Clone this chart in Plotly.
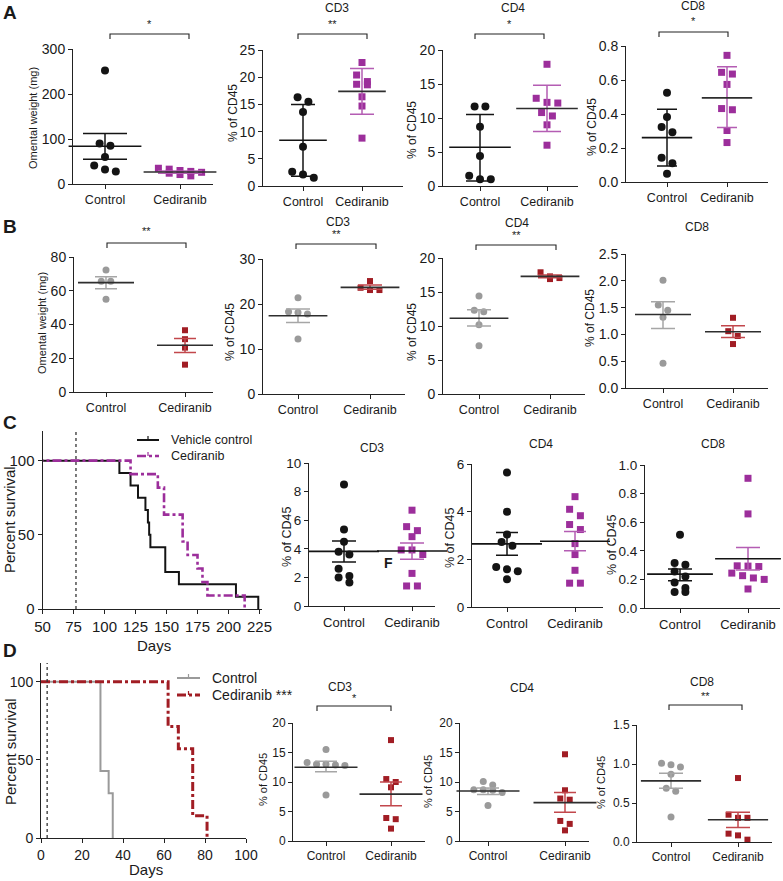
import plotly.graph_objects as go

W, H = 783, 881
FONT = "Liberation Sans, Arial, sans-serif"
GROUPS = ["Control", "Cediranib"]

# ---------------- A: first model ----------------
A_OMENTUM = [[252, 90, 85, 60, 41, 32, 28], [35, 33, 30, 28, 26, 24, 21, 18]]
A_OMENTUM_MEAN = [84, 26.8]
A_OMENTUM_ERR = [[55, 112], [24, 29]]

A_CD3 = [[16.3, 15.5, 13.6, 7.2, 2.6, 2.1, 1.5], [22.7, 20.4, 19.2, 18.7, 18.6, 16.4, 14.7, 8.8]]
A_CD3_MEAN = [8.4, 17.4]
A_CD3_ERR = [[1.8, 15.0], [13.2, 21.6]]

A_CD4 = [[11.7, 11.7, 8.7, 4.4, 1.5, 1.0, 1.0], [17.9, 12.9, 12.3, 12.2, 10.8, 10.3, 9.0, 6.0]]
A_CD4_MEAN = [5.7, 11.4]
A_CD4_ERR = [[0.75, 10.5], [8.0, 14.8]]

A_CD8 = [[0.525, 0.383, 0.324, 0.293, 0.143, 0.11, 0.049], [0.745, 0.645, 0.635, 0.574, 0.432, 0.425, 0.303, 0.232]]
A_CD8_MEAN = [0.261, 0.495]
A_CD8_ERR = [[0.094, 0.428], [0.32, 0.678]]

# ---------------- B: second model ----------------
B_OMENTUM = [[72.3, 65.7, 65.7, 55], [36.6, 31.3, 26.3, 16.2]]
B_OMENTUM_MEAN = [64.8, 27.7]
B_OMENTUM_ERR = [[61.2, 68.3], [23.4, 31.7]]

B_CD3 = [[21.4, 18.3, 18.1, 17.8, 12.2], [25.1, 23.6, 23.1, 23.1]]
B_CD3_MEAN = [17.4, 23.7]
B_CD3_ERR = [[15.9, 18.9], [23.3, 24.2]]

B_CD4 = [[14.4, 12.3, 12.1, 10.2, 7.1], [17.9, 17.3, 17.05, 16.9]]
B_CD4_MEAN = [11.15, 17.3]
B_CD4_ERR = [[10.0, 12.4], [17.1, 17.5]]

B_CD8 = [[2.01, 1.55, 1.45, 1.32, 0.46], [1.31, 1.06, 0.97, 0.82]]
B_CD8_MEAN = [1.37, 1.05]
B_CD8_ERR = [[1.11, 1.61], [0.94, 1.16]]

# ---------------- C: survival + CD45 fractions ----------------
C_DAYS_VEH = [0, 112, 121, 127, 133, 135, 136, 137, 149, 160, 206, 224]
C_SURV_VEH = [100, 91.7, 83.3, 75, 66.7, 58.3, 50, 41.7, 25, 16.7, 8.3, 0]
C_DAYS_CED = [0, 121, 143, 148, 163, 167, 175, 179, 183, 213]
C_SURV_CED = [100, 90.9, 81.8, 63.6, 45.5, 36.4, 27.3, 18.2, 9.1, 0]
C_TREAT_DAY = 77

C_CD3 = [[8.5, 5.35, 4.5, 3.8, 3.6, 2.6, 2.1, 2.0, 1.65], [6.7, 5.55, 5.27, 4.85, 3.92, 3.92, 3.6, 2.28, 1.4, 1.4]]
C_CD3_MEAN = [3.82, 3.85]
C_CD3_ERR = [[3.07, 4.55], [3.27, 4.4]]

C_CD4 = [[5.64, 4.0, 3.04, 2.73, 2.57, 1.68, 1.58, 1.5, 1.16], [4.63, 4.1, 3.83, 3.46, 3.25, 2.66, 2.2, 1.54, 1.0, 1.0]]
C_CD4_MEAN = [2.65, 2.76]
C_CD4_ERR = [[2.17, 3.13], [2.36, 3.17]]

C_CD8 = [[0.512, 0.314, 0.302, 0.256, 0.221, 0.179, 0.14, 0.112, 0.112],
         [0.907, 0.658, 0.295, 0.293, 0.29, 0.244, 0.226, 0.21, 0.2, 0.133]]
C_CD8_MEAN = [0.237, 0.344]
C_CD8_ERR = [[0.19, 0.272], [0.265, 0.423]]

# ---------------- D: survival + CD45 fractions ----------------
D_DAYS_CTRL = [0, 29, 33, 35]
D_SURV_CTRL = [100, 42.9, 28.6, 0]
D_DAYS_CED = [0, 62, 67, 74, 81]
D_SURV_CED = [100, 71.4, 57.1, 14.3, 0]
D_TREAT_DAY = 3

D_CD3 = [[15.5, 13.3, 13.0, 13.0, 12.9, 12.8, 7.8], [17.1, 10.5, 10.0, 9.1, 3.9, 3.7, 2.1]]
D_CD3_MEAN = [12.5, 7.94]
D_CD3_ERR = [[11.75, 13.5], [5.97, 10.0]]

D_CD4 = [[10.1, 9.5, 8.7, 8.7, 8.6, 8.2, 6.0], [14.7, 8.6, 7.2, 7.0, 3.4, 2.9, 1.8]]
D_CD4_MEAN = [8.47, 6.5]
D_CD4_ERR = [[7.9, 9.0], [4.86, 8.2]]

D_CD8 = [[1.01, 0.99, 0.96, 0.87, 0.69, 0.65, 0.32], [0.82, 0.35, 0.31, 0.31, 0.107, 0.085, 0.03]]
D_CD8_MEAN = [0.784, 0.285]
D_CD8_ERR = [[0.69, 0.88], [0.187, 0.383]]

# colours
BLACK = "#141414"
PURPLE = "#9c2e9b"
PURPLE_ERR = "#b45db3"
GREY = "#9a9a9a"
GREY_ERR = "#a6a6a6"
RED = "#a11d24"
RED_ERR = "#c2474c"
MEAN_DARK = "#2e2e2e"
AXIS = "#222222"

STYLE_A = dict(colors=[BLACK, PURPLE], err=[BLACK, PURPLE_ERR], mean=[BLACK, MEAN_DARK], size=8)
STYLE_B = dict(colors=[GREY, RED], err=[GREY_ERR, RED_ERR], mean=[MEAN_DARK, MEAN_DARK], size=7)
STYLE_C = dict(colors=[BLACK, PURPLE], err=[BLACK, PURPLE_ERR], mean=[BLACK, BLACK], size=8)
STYLE_D = dict(colors=[GREY, RED], err=[GREY_ERR, RED_ERR], mean=[MEAN_DARK, MEAN_DARK], size=7)

# pixel geometry of each dot panel: y-axis x, x-axis end, y of top tick, y of zero, category centres
PANELS = [
    dict(vals=A_OMENTUM, mean=A_OMENTUM_MEAN, err=A_OMENTUM_ERR, ymax=300, dtick=100, fmt="d",
         L=73, R=213, top=49, bot=184, cx=105, dx=180, style=STYLE_A, title=None,
         ylab="Omental weight (mg)", ylab_xy=(33, 118), ylab_size=11, tick=14, xt=12.5,
         stars="*", bracket=(110, 189, 34), star_y=24, mlen=52, cap=22),
    dict(vals=A_CD3, mean=A_CD3_MEAN, err=A_CD3_ERR, ymax=25, dtick=5, fmt="d",
         L=263, R=403, top=50, bot=186, cx=303, dx=362, style=STYLE_A, title=("CD3", 337, 8),
         ylab="% of CD45", ylab_xy=(233, 113), ylab_size=12, tick=14, xt=12.5,
         stars="**", bracket=(298, 367, 34), star_y=24, mlen=34, cap=12),
    dict(vals=A_CD4, mean=A_CD4_MEAN, err=A_CD4_ERR, ymax=20, dtick=5, fmt="d",
         L=443, R=578, top=50, bot=186, cx=480, dx=547, style=STYLE_A, title=("CD4", 513, 8),
         ylab="% of CD45", ylab_xy=(412, 130), ylab_size=12, tick=14, xt=12.5,
         stars="*", bracket=(475, 544, 34), star_y=24, mlen=44, cap=14),
    dict(vals=A_CD8, mean=A_CD8_MEAN, err=A_CD8_ERR, ymax=0.8, dtick=0.2, fmt=".1f",
         L=626, R=768, top=46, bot=182, cx=667, dx=727, style=STYLE_A, title=("CD8", 693, 6),
         ylab="% of CD45", ylab_xy=(592, 127), ylab_size=12, tick=14, xt=12.5,
         stars="*", bracket=(659, 728, 32), star_y=21, mlen=36, cap=10),

    dict(vals=B_OMENTUM, mean=B_OMENTUM_MEAN, err=B_OMENTUM_ERR, ymax=80, dtick=20, fmt="d",
         L=74, R=213, top=257, bot=392, cx=106, dx=185, style=STYLE_B, title=None,
         ylab="Omental weight (mg)", ylab_xy=(42, 323), ylab_size=11, tick=14, xt=12.5,
         stars="**", bracket=(107, 186, 243), star_y=231, mlen=40, cap=11),
    dict(vals=B_CD3, mean=B_CD3_MEAN, err=B_CD3_ERR, ymax=30, dtick=10, fmt="d",
         L=263, R=405, top=259, bot=394, cx=298, dx=370, style=STYLE_B, title=("CD3", 338, 222),
         ylab="% of CD45", ylab_xy=(230, 332), ylab_size=12, tick=14, xt=12.5,
         stars="**", bracket=(296, 376, 244), star_y=234, mlen=42, cap=12),
    dict(vals=B_CD4, mean=B_CD4_MEAN, err=B_CD4_ERR, ymax=20, dtick=5, fmt="d",
         L=443, R=585, top=258, bot=394, cx=479, dx=550, style=STYLE_B, title=("CD4", 517, 223),
         ylab="% of CD45", ylab_xy=(412, 332), ylab_size=12, tick=14, xt=12.5,
         stars="**", bracket=(476, 556, 245), star_y=235, mlen=42, cap=12),
    dict(vals=B_CD8, mean=B_CD8_MEAN, err=B_CD8_ERR, ymax=2.5, dtick=0.5, fmt=".1f",
         L=626, R=768, top=254, bot=388, cx=663, dx=733, style=STYLE_B, title=("CD8", 697, 227),
         ylab="% of CD45", ylab_xy=(590, 318), ylab_size=12, tick=14, xt=12.5,
         stars=None, mlen=40, cap=12),

    dict(vals=C_CD3, mean=C_CD3_MEAN, err=C_CD3_ERR, ymax=10, dtick=2, fmt="d",
         L=309, R=435, top=463, bot=606, cx=344, dx=412, style=STYLE_C, title=("CD3", 372, 448),
         ylab="% of CD45", ylab_xy=(287, 537), ylab_size=12.5, tick=13.5, xt=13,
         stars=None, mlen=50, cap=12),
    dict(vals=C_CD4, mean=C_CD4_MEAN, err=C_CD4_ERR, ymax=6, dtick=2, fmt="d",
         L=472, R=603, top=464, bot=607, cx=507, dx=575, style=STYLE_C, title=("CD4", 541, 444),
         ylab="% of CD45", ylab_xy=(450, 538), ylab_size=12.5, tick=13.5, xt=13,
         stars=None, mlen=50, cap=11),
    dict(vals=C_CD8, mean=C_CD8_MEAN, err=C_CD8_ERR, ymax=1.0, dtick=0.2, fmt=".1f",
         L=645, R=780, top=465, bot=608, cx=680, dx=748, style=STYLE_C, title=("CD8", 713, 444),
         ylab="% of CD45", ylab_xy=(612, 545), ylab_size=12.5, tick=13.5, xt=13,
         stars=None, mlen=47, cap=12),

    dict(vals=D_CD3, mean=D_CD3_MEAN, err=D_CD3_ERR, ymax=20, dtick=5, fmt="d",
         L=293, R=425, top=723, bot=841, cx=326, dx=391, style=STYLE_D, title=("CD3", 340, 687),
         ylab="% of CD45", ylab_xy=(263, 780), ylab_size=11, tick=12, xt=12,
         stars="*", bracket=(317, 391, 706), star_y=698, mlen=45, cap=11),
    dict(vals=D_CD4, mean=D_CD4_MEAN, err=D_CD4_ERR, ymax=20, dtick=5, fmt="d",
         L=460, R=589, top=723, bot=841, cx=488, dx=565, style=STYLE_D, title=("CD4", 522, 688),
         ylab="% of CD45", ylab_xy=(428, 782), ylab_size=11, tick=12, xt=12,
         stars=None, mlen=45, cap=11),
    dict(vals=D_CD8, mean=D_CD8_MEAN, err=D_CD8_ERR, ymax=1.5, dtick=0.5, fmt=".1f",
         L=637, R=772, top=725, bot=842, cx=671, dx=738, style=STYLE_D, title=("CD8", 702, 682),
         ylab="% of CD45", ylab_xy=(601, 783), ylab_size=11, tick=12, xt=12,
         stars="**", bracket=(669, 742, 705), star_y=696, mlen=43, cap=12),
]


def fx(p):
    return p / W


def fy(p):
    return 1 - p / H


def swarm(values, ppu, span, size, max_row=5):
    """Prism-like row layout: points closer than a marker get spread sideways."""
    order = sorted(range(len(values)), key=lambda i: -values[i])
    bins, cur = [], []
    for i in order:
        if cur and ((values[cur[0]] - values[i]) * ppu >= size * 0.9 or len(cur) >= max_row):
            bins.append(cur)
            cur = []
        cur.append(i)
    bins.append(cur)
    offs = [0.0] * len(values)
    step = size * 1.35
    for b in bins:
        n = len(b)
        for k, i in enumerate(b):
            offs[i] = (k - (n - 1) / 2) * step / span
    return offs


fig = go.Figure()
layout = {}
annotations = []
shapes = []


def axis_style(size):
    return dict(showgrid=False, zeroline=False, showline=True, linecolor=AXIS, linewidth=1,
                ticks="outside", ticklen=4, tickwidth=1, tickcolor=AXIS, automargin=False,
                tickfont=dict(family=FONT, size=size, color="#1a1a1a"))


def text(x, y, s, size, angle=0, bold=False, anchor="center"):
    annotations.append(dict(x=fx(x), y=fy(y), xref="paper", yref="paper", text=f"<b>{s}</b>" if bold else s,
                            showarrow=False, textangle=angle, xanchor=anchor, yanchor="middle",
                            borderpad=0, font=dict(family=FONT, size=size, color="#1a1a1a")))


n = 0
for p in PANELS:
    n += 1
    xname, yname = f"x{n}", f"y{n}"
    span = p["dx"] - p["cx"]
    x0 = -(p["cx"] - p["L"]) / span
    x1 = 1 + (p["R"] - p["dx"]) / span
    ppu = (p["bot"] - p["top"]) / p["ymax"]
    st = p["style"]
    xa = axis_style(p["xt"])
    xa.update(domain=[fx(p["L"]), fx(p["R"])], range=[x0, x1], anchor=yname,
              tickvals=[0, 1], ticktext=GROUPS)
    ya = axis_style(p["tick"])
    ya.update(domain=[fy(p["bot"]), fy(p["top"])], range=[0, p["ymax"]], anchor=xname,
              dtick=p["dtick"], tick0=0, tickformat=p["fmt"])
    layout[f"xaxis{n}"] = xa
    layout[f"yaxis{n}"] = ya

    for g in range(2):
        vals = p["vals"][g]
        offs = swarm(vals, ppu, span, st["size"])
        fig.add_trace(go.Scatter(
            x=[g + o for o in offs], y=vals, mode="markers", xaxis=xname, yaxis=yname,
            marker=dict(symbol="circle" if g == 0 else "square", size=st["size"] if g == 0 else st["size"] - 1,
                        color=st["colors"][g], line=dict(width=0)),
            cliponaxis=False, showlegend=False, hoverinfo="y"))
        m = p["mean"][g]
        lo, hi = p["err"][g]
        fig.add_trace(go.Scatter(
            x=[g], y=[m], mode="markers", xaxis=xname, yaxis=yname,
            marker=dict(symbol="line-ew", size=p["mlen"], color=st["mean"][g],
                        line=dict(width=1.6, color=st["mean"][g])),
            error_y=dict(type="data", symmetric=False, array=[hi - m], arrayminus=[m - lo],
                         width=p["cap"], thickness=1.5, color=st["err"][g]),
            cliponaxis=False, showlegend=False, hoverinfo="y"))

    if p["title"]:
        t, tx, ty = p["title"]
        text(tx, ty, t, 12)
    lx, ly = p["ylab_xy"]
    text(lx, ly, p["ylab"], p["ylab_size"], angle=-90)
    if p["stars"]:
        bx0, bx1, by = p["bracket"]
        shapes.append(dict(type="path", xref="paper", yref="paper",
                           path=f"M {fx(bx0)},{fy(by + 5)} L {fx(bx0)},{fy(by)} L {fx(bx1)},{fy(by)} L {fx(bx1)},{fy(by + 5)}",
                           line=dict(color=AXIS, width=1.1)))
        text((bx0 + bx1) / 2, p["star_y"], p["stars"], 11)

# ---------------- survival curves ----------------
KM = [
    dict(L=42.5, R=262, top=431, bot=609, xr=[50, 227], yr=[0, 120], xdtick=25, treat=C_TREAT_DAY,
         series=[(C_DAYS_VEH, C_SURV_VEH, "Vehicle control", BLACK, 2, "solid"),
                 (C_DAYS_CED, C_SURV_CED, "Cediranib", PURPLE, 2.6, "dashdot")],
         key=dict(x0=137, x1=159, tx=170, ys=[440, 456], size=12.5),
         days_y=645, surv_xy=(9, 520), tick=15),
    dict(L=41, R=246, top=663, bot=838, xr=[0, 100], yr=[0, 112], xdtick=20, treat=D_TREAT_DAY,
         series=[(D_DAYS_CTRL, D_SURV_CTRL, "Control", GREY, 2, "solid"),
                 (D_DAYS_CED, D_SURV_CED, "Cediranib ***", RED, 3, "dashdot")],
         key=dict(x0=177, x1=200, tx=211, ys=[678, 695], size=14),
         days_y=869, surv_xy=(10, 752), tick=14),
]

for s in KM:
    n += 1
    xname, yname = f"x{n}", f"y{n}"
    xa = axis_style(s["tick"])
    xa.update(domain=[fx(s["L"]), fx(s["R"])], range=s["xr"], anchor=yname, dtick=s["xdtick"], tick0=0)
    ya = axis_style(s["tick"])
    ya.update(domain=[fy(s["bot"]), fy(s["top"])], range=s["yr"], anchor=xname, tickvals=[0, 50, 100])
    layout[f"xaxis{n}"] = xa
    layout[f"yaxis{n}"] = ya
    key = s["key"]
    for (days, surv, name, col, wdt, dash), ky in zip(s["series"], key["ys"]):
        fig.add_trace(go.Scatter(x=days, y=surv, mode="lines", line_shape="hv", name=name,
                                 line=dict(color=col, width=wdt, dash=dash), xaxis=xname, yaxis=yname,
                                 showlegend=False, cliponaxis=True))
        # hand-placed key, tighter than plotly's legend rows
        shapes.append(dict(type="line", xref="paper", yref="paper", x0=fx(key["x0"]), x1=fx(key["x1"]),
                           y0=fy(ky), y1=fy(ky), line=dict(color=col, width=wdt, dash=dash)))
        xm = (key["x0"] + key["x1"]) / 2
        shapes.append(dict(type="line", xref="paper", yref="paper", x0=fx(xm), x1=fx(xm),
                           y0=fy(ky), y1=fy(ky - 4), line=dict(color=col, width=1.2)))
        text(key["tx"], ky, name, key["size"], anchor="left")
    shapes.append(dict(type="line", xref=xname, yref=yname, x0=s["treat"], x1=s["treat"],
                       y0=0, y1=s["yr"][1], line=dict(color="#333333", width=1.3, dash="dot")))
    text((s["L"] + s["R"]) / 2 + 2, s["days_y"], "Days", 15)
    sx, sy = s["surv_xy"]
    text(sx, sy, "Percent survival", 15, angle=-90)

# panel letters and stray label
for letter, ly in [("A", 12), ("B", 226), ("C", 423), ("D", 650)]:
    text(2, ly, letter, 19, bold=True, anchor="left")
text(388, 563, "F", 14, bold=True)

fig.update_layout(width=W, height=H, margin=dict(l=0, r=0, t=0, b=0),
                  paper_bgcolor="white", plot_bgcolor="white", showlegend=False,
                  annotations=annotations, shapes=shapes, **layout)
# the page body has a default 8px margin; drop it so the figure fills the window
fig.write_html("out.html", config={"displayModeBar": False},
               post_script="document.body.style.margin='0';")
